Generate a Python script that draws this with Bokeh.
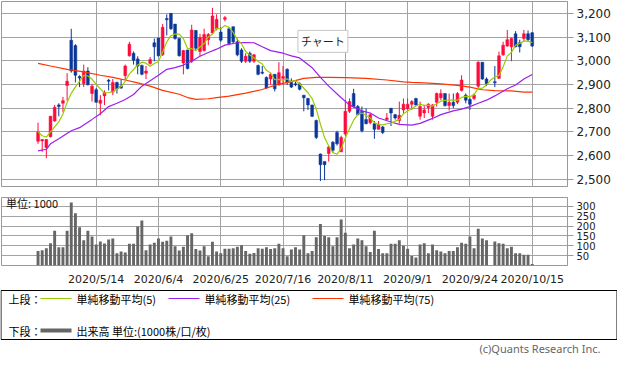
import pandas as pd
from bokeh.plotting import figure
from bokeh.layouts import column
from bokeh.models import Range1d, FixedTicker, Label, ColumnDataSource, NumeralTickFormatter
from bokeh.core.properties import value
from bokeh.embed import file_html
from bokeh.resources import INLINE

NaN = float("nan")

# ---------------- data ----------------
dates = [
    "2020/4/20", "2020/4/21", "2020/4/22", "2020/4/23", "2020/4/24", "2020/4/27", "2020/4/28", "2020/4/30",
    "2020/5/1", "2020/5/7", "2020/5/8", "2020/5/11", "2020/5/12", "2020/5/13", "2020/5/14",
    "2020/5/15", "2020/5/18", "2020/5/19", "2020/5/20", "2020/5/21", "2020/5/22", "2020/5/25", "2020/5/26",
    "2020/5/27", "2020/5/28", "2020/5/29", "2020/6/1", "2020/6/2", "2020/6/3", "2020/6/4",
    "2020/6/5", "2020/6/8", "2020/6/9", "2020/6/10", "2020/6/11", "2020/6/12", "2020/6/15", "2020/6/16",
    "2020/6/17", "2020/6/18", "2020/6/19", "2020/6/22", "2020/6/23", "2020/6/24", "2020/6/25",
    "2020/6/26", "2020/6/29", "2020/6/30", "2020/7/1", "2020/7/2", "2020/7/3", "2020/7/6", "2020/7/7",
    "2020/7/8", "2020/7/9", "2020/7/10", "2020/7/13", "2020/7/14", "2020/7/15", "2020/7/16",
    "2020/7/17", "2020/7/20", "2020/7/21", "2020/7/22", "2020/7/27", "2020/7/28", "2020/7/29", "2020/7/30",
    "2020/7/31", "2020/8/3", "2020/8/4", "2020/8/5", "2020/8/6", "2020/8/7", "2020/8/11",
    "2020/8/12", "2020/8/13", "2020/8/14", "2020/8/17", "2020/8/18", "2020/8/19", "2020/8/20", "2020/8/21",
    "2020/8/24", "2020/8/25", "2020/8/26", "2020/8/27", "2020/8/28", "2020/8/31", "2020/9/1",
    "2020/9/2", "2020/9/3", "2020/9/4", "2020/9/7", "2020/9/8", "2020/9/9", "2020/9/10", "2020/9/11",
    "2020/9/14", "2020/9/15", "2020/9/16", "2020/9/17", "2020/9/18", "2020/9/23", "2020/9/24",
    "2020/9/25", "2020/9/28", "2020/9/29", "2020/9/30", "2020/10/1", "2020/10/2", "2020/10/5", "2020/10/6",
    "2020/10/7", "2020/10/8", "2020/10/9", "2020/10/12", "2020/10/13", "2020/10/14", "2020/10/15",
]

open_ = [
    2661, 2662, 2634, 2680, 2746, 2814, 2821, 2896, 3087, 3064, 2934, 2903, 2957, 2862, 2878,
    2821, 2852, 2918, 2868, 2909, 2893, 2937, 3021, 3032, 3008, 2980, 2948, 2989, 3076, 3096,
    3025, 3178, 3200, 3155, 3094, 2991, 3046, 2998, 3128, 3039, 3043, 3089, 3117, 3135, 3121,
    3175, 3135, 3144, 3080, 3046, 2998, 3032, 2998, 2980, 2952, 2930, 2923, 2943, 2898, 2926,
    2964, 2909, 2903, 2903, 2855, 2841, 2814, 2748, 2607, 2575, 2609, 2657, 2698, 2616, 2691,
    2787, 2862, 2807, 2787, 2752, 2739, 2735, 2711, 2721, 2752, 2800, 2773, 2748, 2793, 2798,
    2817, 2841, 2766, 2780, 2803, 2766, 2825, 2844, 2862, 2811, 2825, 2825, 2875, 2855, 2837,
    2841, 2893, 2994, 2923, NaN, 2912, 2926, 3025, 3062, 3059, 3114, 3076, 3094, 3114, 3118,
]
high = [
    2739, 2670, 2670, 2768, 2814, 2821, 2848, 2948, 3135, 3070, 2939, 2984, 2973, 2903, 2885,
    2855, 2875, 2923, 2923, 2912, 2923, 2984, 3080, 3039, 3019, 2984, 2978, 3016, 3094, 3096,
    3155, 3196, 3200, 3155, 3094, 3046, 3046, 3152, 3130, 3114, 3135, 3117, 3223, 3196, 3141,
    3189, 3141, 3144, 3094, 3053, 3032, 3039, 3029, 2984, 2978, 2934, 2950, 2943, 2994, 2978,
    2968, 2926, 2912, 2909, 2855, 2844, 2814, 2752, 2609, 2575, 2643, 2661, 2705, 2684, 2834,
    2841, 2882, 2814, 2807, 2800, 2780, 2746, 2746, 2725, 2780, 2800, 2776, 2828, 2841, 2841,
    2834, 2844, 2828, 2814, 2821, 2817, 2866, 2880, 2862, 2862, 2862, 2868, 2939, 2862, 2844,
    2862, 2998, 2994, 2930, NaN, 2978, 3039, 3080, 3130, 3098, 3125, 3089, 3130, 3128, 3121,
]
low = [
    2650, 2616, 2589, 2677, 2743, 2766, 2783, 2832, 2950, 2909, 2889, 2889, 2896, 2828, 2825,
    2770, 2814, 2875, 2855, 2862, 2882, 2916, 3018, 2984, 2943, 2939, 2923, 2984, 2998, 3018,
    3021, 3107, 3130, 3089, 3018, 2943, 2964, 2991, 3046, 3019, 3039, 3066, 3114, 3128, 3080,
    3166, 3066, 3073, 3019, 2991, 2991, 2991, 2991, 2939, 2943, 2882, 2898, 2871, 2896, 2898,
    2898, 2885, 2893, 2875, 2787, 2793, 2763, 2670, 2493, 2497, 2575, 2612, 2643, 2616, 2684,
    2780, 2803, 2770, 2698, 2732, 2732, 2671, 2711, 2691, 2748, 2725, 2752, 2735, 2780, 2793,
    2793, 2810, 2752, 2759, 2780, 2752, 2807, 2834, 2807, 2790, 2800, 2817, 2871, 2821, 2793,
    2834, 2880, 2920, 2893, NaN, 2889, 2923, 3021, 3059, 2998, 3057, 3035, 3080, 3080, 3059,
]
close = [
    2700, 2668, 2668, 2766, 2804, 2807, 2832, 2914, 2957, 2939, 2927, 2957, 2899, 2893, 2825,
    2834, 2866, 2914, 2909, 2882, 2885, 2978, 3070, 3002, 2978, 2943, 2957, 3005, 3059, 3021,
    3141, 3173, 3135, 3094, 3021, 3043, 2967, 3130, 3053, 3098, 3111, 3111, 3189, 3175, 3087,
    3182, 3073, 3080, 3025, 2998, 3019, 2998, 3025, 2943, 2948, 2885, 2943, 2882, 2950, 2934,
    2909, 2889, 2899, 2880, 2844, 2814, 2766, 2677, 2562, 2562, 2637, 2623, 2650, 2677, 2787,
    2828, 2807, 2773, 2705, 2735, 2773, 2711, 2732, 2698, 2759, 2780, 2759, 2770, 2817, 2817,
    2828, 2814, 2807, 2793, 2817, 2814, 2862, 2862, 2811, 2825, 2811, 2862, 2919, 2834, 2817,
    2855, 2994, 2923, 2903, NaN, 2907, 3021, 3066, 3089, 3094, 3059, 3059, 3114, 3089, 3062,
]
volume = [
    73, 78, 88, 113, 176, 93, 93, 176, 320, 265, 194, 128, 176, 147, 106,
    122, 111, 132, 137, 62, 71, 66, 110, 110, 198, 228, 78, 106, 115, 137,
    120, 125, 147, 98, 76, 95, 154, 163, 84, 76, 98, 47, 120, 71, 62,
    85, 85, 88, 95, 103, 73, 59, 63, 88, 85, 93, 84, 88, 110, 88,
    47, 81, 93, 81, 154, 62, 73, 143, 210, 150, 143, 98, 143, 233, 166,
    88, 106, 137, 128, 98, 69, 176, 84, 62, 62, 110, 110, 128, 100, 85,
    48, 40, 106, 113, 62, 106, 78, 71, 62, 73, 73, 93, 115, 110, 147,
    88, 187, 137, 128, NaN, 122, 113, 110, 88, 95, 62, 62, 54, 54, 7,
]

ma25_dates = [
    "2020/4/20", "2020/4/22", "2020/4/23", "2020/4/27", "2020/5/1", "2020/5/8", "2020/5/13", "2020/5/15",
    "2020/5/19", "2020/5/21", "2020/5/25", "2020/5/27", "2020/5/29", "2020/6/2", "2020/6/4", "2020/6/8",
    "2020/6/10", "2020/6/12", "2020/6/16", "2020/6/18", "2020/6/22", "2020/6/24", "2020/6/26", "2020/7/1",
    "2020/7/3", "2020/7/7", "2020/7/9", "2020/7/13", "2020/7/16", "2020/7/20", "2020/7/22", "2020/7/29",
    "2020/7/31", "2020/8/4", "2020/8/7", "2020/8/12", "2020/8/17", "2020/8/19", "2020/8/21", "2020/8/26",
    "2020/8/28", "2020/9/2", "2020/9/4", "2020/9/9", "2020/9/11", "2020/9/16", "2020/9/18", "2020/9/24",
    "2020/9/28", "2020/9/30", "2020/10/2", "2020/10/7", "2020/10/9", "2020/10/13", "2020/10/15",
]
ma25_values = [
    2620, 2627, 2650, 2671, 2705, 2718, 2753, 2777,
    2807, 2821, 2837, 2858, 2893, 2916, 2939, 2964,
    2971, 2982, 2998, 3019, 3035, 3049, 3066, 3076,
    3077, 3076, 3059, 3043, 3032, 3021, 3012, 2971,
    2930, 2893, 2844, 2814, 2789, 2780, 2759, 2742,
    2732, 2729, 2736, 2757, 2773, 2789, 2796, 2807,
    2821, 2834, 2852, 2882, 2898, 2923, 2942,
]

ma75_dates = [
    "2020/4/20", "2020/4/23", "2020/4/30", "2020/5/11", "2020/5/15", "2020/5/20", "2020/5/25", "2020/5/28",
    "2020/6/2", "2020/6/5", "2020/6/11", "2020/6/15", "2020/6/17", "2020/6/22", "2020/6/24", "2020/6/29",
    "2020/7/3", "2020/7/9", "2020/7/15", "2020/7/20", "2020/7/27", "2020/7/30", "2020/8/4", "2020/8/11",
    "2020/8/18", "2020/8/25", "2020/8/31", "2020/9/2", "2020/9/7", "2020/9/11", "2020/9/17", "2020/9/24",
    "2020/9/29", "2020/10/2", "2020/10/8", "2020/10/13", "2020/10/15",
]
ma75_values = [
    2989, 2978, 2964, 2953, 2939, 2930, 2919, 2907,
    2893, 2875, 2859, 2845, 2837, 2840, 2845, 2851,
    2864, 2879, 2902, 2912, 2926, 2930, 2930, 2929,
    2926, 2919, 2911, 2909, 2907, 2903, 2896, 2889,
    2878, 2874, 2873, 2868, 2868,
]

tick_labels = ["2020/5/14", "2020/6/4", "2020/6/25", "2020/7/16", "2020/8/11",
               "2020/9/1", "2020/9/24", "2020/10/15"]
price_ticks = [2500, 2600, 2700, 2800, 2900, 3000, 3100, 3200]
volume_ticks = [50, 100, 150, 200, 250, 300]

legend_top_label = "上段："
legend_bottom_label = "下段："
ma_labels = ["単純移動平均(5)", "単純移動平均(25)", "単純移動平均(75)"]
volume_label = "出来高 単位:(1000株/口/枚)"
unit_label = "単位: 1000"
chart_button = "チャート"
copyright_text = "(c)Quants Research Inc."

# ---------------- styles ----------------
UP = "#ff0a3c"
DOWN = "#0a3799"
MA5_C = "#99cc00"
MA25_C = "#9b1ff0"
MA75_C = "#ff3300"
VOL_C = "#666666"
GRID_C = "#a3a3a3"
JP = "Noto Sans CJK JP"

x_all = list(range(len(dates)))
ma5 = pd.Series(close, dtype=float).rolling(5, min_periods=1).mean().tolist()
tick_pos = [dates.index(t) for t in tick_labels]
ma25_x = [dates.index(d) for d in ma25_dates]
ma75_x = [dates.index(d) for d in ma75_dates]

def candle_source(up):
    d = dict(x=[], top=[], bottom=[], high=[], low=[])
    for i, (o, h, l, c) in enumerate(zip(open_, high, low, close)):
        if o != o:
            continue
        if (c >= o) == up:
            d["x"].append(i)
            d["top"].append(max(o, c))
            d["bottom"].append(min(o, c))
            d["high"].append(h)
            d["low"].append(l)
    return ColumnDataSource(d)

x_range = Range1d(-8.8, 127.5)
W = 617

# ---------------- price panel ----------------
p1 = figure(width=W, height=187, x_range=x_range, y_range=Range1d(2470, 3250),
            toolbar_location=None, output_backend="svg", y_axis_location="right",
            x_axis_location=None, min_border_left=1, min_border_right=50,
            min_border_top=1, min_border_bottom=1)
p1.outline_line_color = "#999999"
p1.xgrid.ticker = FixedTicker(ticks=tick_pos)
p1.ygrid.ticker = FixedTicker(ticks=price_ticks)
p1.grid.grid_line_color = GRID_C
p1.yaxis.ticker = FixedTicker(ticks=price_ticks)
p1.yaxis.formatter = NumeralTickFormatter(format="0,0")
p1.yaxis.major_label_text_font = "DejaVu Sans"
p1.yaxis.major_label_text_font_size = "12px"
p1.yaxis.major_label_text_color = "#222222"
p1.yaxis.major_tick_out = 6
p1.yaxis.major_tick_in = 0
p1.yaxis.minor_tick_line_color = None
p1.yaxis.major_tick_line_color = "#999999"
p1.yaxis.axis_line_color = "#999999"
p1.yaxis.major_label_standoff = 3

for up, col in ((True, UP), (False, DOWN)):
    src = candle_source(up)
    p1.segment(x0="x", y0="low", x1="x", y1="high", source=src, line_color=col, line_width=1)
    p1.vbar(x="x", width=0.68, top="top", bottom="bottom", source=src,
            fill_color=col, line_color=col, line_width=0.5)

p1.line(ma75_x, ma75_values, line_color=MA75_C, line_width=1.2)
p1.line(ma25_x, ma25_values, line_color=MA25_C, line_width=1.2)
p1.line(x_all, ma5, line_color=MA5_C, line_width=1.2)

p1.add_layout(Label(x=68.6, y=3082, text=chart_button, text_align="center",
                    text_baseline="middle", text_font=JP, text_font_size="11px",
                    text_color="#222222", background_fill_color="white",
                    border_line_color="#c4c4c4", padding=3))

# ---------------- volume panel ----------------
p2 = figure(width=W, height=101, x_range=x_range, y_range=Range1d(0, 345),
            toolbar_location=None, output_backend="svg", y_axis_location="right",
            min_border_left=1, min_border_right=50, min_border_top=10, min_border_bottom=15)
p2.outline_line_color = "#999999"
p2.xgrid.ticker = FixedTicker(ticks=tick_pos)
p2.ygrid.ticker = FixedTicker(ticks=volume_ticks)
p2.grid.grid_line_color = GRID_C
p2.vbar(x=x_all, top=volume, width=0.7, fill_color=VOL_C, line_color=None)

p2.xaxis.ticker = FixedTicker(ticks=tick_pos)
p2.xaxis.major_label_overrides = {pos: lab for pos, lab in zip(tick_pos, tick_labels)}
p2.xaxis.major_tick_line_color = None
p2.xaxis.minor_tick_line_color = None
p2.xaxis.axis_line_color = None
p2.xaxis.major_label_standoff = 1
p2.xaxis.major_label_text_font = "DejaVu Sans"
p2.xaxis.major_label_text_font_size = "11px"
p2.xaxis.major_label_text_color = "#222222"

p2.yaxis.ticker = FixedTicker(ticks=volume_ticks)
p2.yaxis.major_label_text_font = "DejaVu Sans"
p2.yaxis.major_label_text_font_size = "10px"
p2.yaxis.major_label_text_color = "#222222"
p2.yaxis.major_tick_out = 6
p2.yaxis.major_tick_in = 0
p2.yaxis.minor_tick_line_color = None
p2.yaxis.major_tick_line_color = "#999999"
p2.yaxis.axis_line_color = "#999999"
p2.yaxis.major_label_standoff = 3

p2.add_layout(Label(x=-7.7, y=318, text=unit_label, text_baseline="middle",
                    text_font=JP, text_font_size="11px", text_color="#111111"))

# ---------------- legend panel ----------------
H3 = 69
p3 = figure(width=W, height=H3, x_range=Range1d(0, W), y_range=Range1d(0, H3),
            toolbar_location=None, output_backend="svg", x_axis_location=None,
            y_axis_location=None, min_border=0, frame_align=False)
p3.grid.visible = False
p3.outline_line_color = None
p3.quad(left=0.5, right=W - 0.5, top=67, bottom=18, fill_color=None, line_color="black", line_width=1)

row1, row2 = 59, 27
p3.text(x=[8, 8], y=[row1, row2], text=[legend_top_label, legend_bottom_label],
        text_font=value(JP), text_font_size="11px", text_baseline="middle", text_color="black")
for x0, colr, lab in zip([40, 168, 312], [MA5_C, MA25_C, MA75_C], ma_labels):
    p3.line([x0, x0 + 31], [row1, row1], line_color=colr, line_width=1.2)
    p3.text(x=[x0 + 36], y=[row1], text=[lab], text_font=value(JP), text_font_size="11px",
            text_baseline="middle", text_color="black")
p3.line([40, 71], [row2, row2], line_color=VOL_C, line_width=4)
p3.text(x=[76], y=[row2], text=[volume_label], text_font=value(JP), text_font_size="11px",
        text_baseline="middle", text_color="black")
p3.text(x=[600], y=[9], text=[copyright_text], text_font=value("Noto Sans"),
        text_font_size="11px", text_baseline="middle", text_align="right", text_color="#666666")

layout = column(p1, p2, p3)
open("out.html", "w").write(file_html(layout, INLINE))
